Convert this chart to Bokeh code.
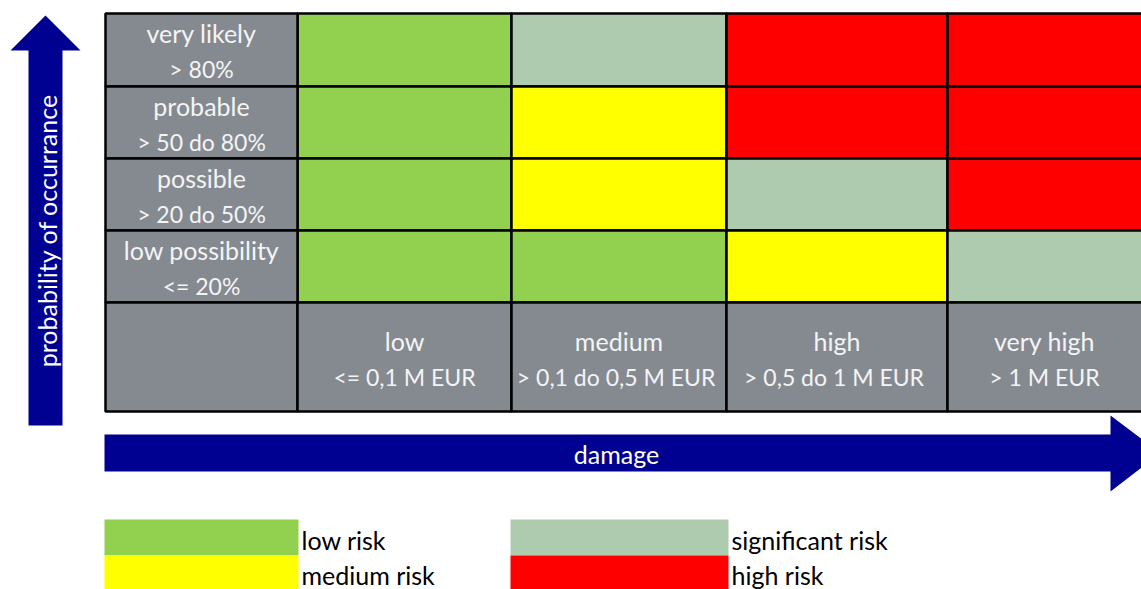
import math
from bokeh.plotting import figure
from bokeh.models import Range1d, ColumnDataSource
from bokeh.core.properties import value
from bokeh.embed import file_html
from bokeh.resources import INLINE

# ---- data ---------------------------------------------------------------
prob_labels = ["very likely", "probable", "possible", "low possibility"]
prob_ranges = ["> 80%", "> 50 do 80%", "> 20 do 50%", "<= 20%"]
damage_labels = ["low", "medium", "high", "very high"]
damage_ranges = ["<= 0,1 M EUR", ">  0,1 do 0,5 M EUR", ">  0,5 do 1 M EUR", "> 1 M EUR"]

# risk level per cell, rows from "very likely" down to "low possibility"
risk_very_likely = ["low", "significant", "high", "high"]
risk_probable = ["low", "medium", "high", "high"]
risk_possible = ["low", "medium", "significant", "high"]
risk_low_possibility = ["low", "low", "medium", "significant"]
risk_rows = [risk_very_likely, risk_probable, risk_possible, risk_low_possibility]

legend_levels = ["low", "medium", "significant", "high"]
legend_texts = ["low risk", "medium risk", "significant risk", "high risk"]

# ---- styling / layout ---------------------------------------------------
W, H = 1141, 589
risk_colors = {"low": "#92D050", "medium": "#FFFF00",
               "significant": "#AECBB0", "high": "#FF0000"}
GRAY = "#858A91"
NAVY = "#000091"
FONT = value("Lato")
FS = "25px"        # words
FS_NUM = "23px"    # numeric range lines

col_edges = [105, 297, 511, 726, 947, 1165]   # header column + 4 damage columns
row_edges = [13, 86, 158, 230, 302, 411]      # 4 probability rows + header row

p = figure(width=W, height=H, x_range=Range1d(0, W), y_range=Range1d(H, 0),
           output_backend="svg", toolbar_location=None, min_border=0)
p.axis.visible = False
p.grid.visible = False
p.outline_line_color = None
p.background_fill_color = "white"

# ---- grid cells ---------------------------------------------------------
cells = dict(left=[], right=[], top=[], bottom=[], color=[])
for r, row in enumerate(risk_rows):
    for c, level in enumerate(row):
        cells["left"].append(col_edges[c + 1])
        cells["right"].append(col_edges[c + 2])
        cells["top"].append(row_edges[r])
        cells["bottom"].append(row_edges[r + 1])
        cells["color"].append(risk_colors[level])
# header cells (gray)
for r in range(len(prob_labels) + 1):
    cells["left"].append(col_edges[0]); cells["right"].append(col_edges[1])
    cells["top"].append(row_edges[r]); cells["bottom"].append(row_edges[r + 1])
    cells["color"].append(GRAY)
for c in range(len(damage_labels)):
    cells["left"].append(col_edges[c + 1]); cells["right"].append(col_edges[c + 2])
    cells["top"].append(row_edges[-2]); cells["bottom"].append(row_edges[-1])
    cells["color"].append(GRAY)

p.quad(left="left", right="right", top="top", bottom="bottom",
       fill_color="color", line_color="black", line_width=2.5,
       source=ColumnDataSource(cells))

# ---- header texts -------------------------------------------------------
TXT = "#F4F4F4"
nx, ny, nt = [], [], []   # name lines
rx, ry, rt = [], [], []   # range lines
for r in range(len(prob_labels)):
    cy = (row_edges[r] + row_edges[r + 1]) / 2
    cx = (col_edges[0] + col_edges[1]) / 2
    nx.append(cx); ny.append(cy - 17); nt.append(prob_labels[r])
    rx.append(cx); ry.append(cy + 19); rt.append(prob_ranges[r])
cy = (row_edges[-2] + row_edges[-1]) / 2
for c in range(len(damage_labels)):
    cx = (col_edges[c + 1] + min(col_edges[c + 2], W)) / 2
    nx.append(cx); ny.append(cy - 16); nt.append(damage_labels[c])
    rx.append(cx); ry.append(cy + 20); rt.append(damage_ranges[c])
p.text(x=nx, y=ny, text=nt, text_font=FONT, text_font_size=FS,
       text_color=TXT, text_align="center", text_baseline="middle")
p.text(x=rx, y=ry, text=rt, text_font=FONT, text_font_size=FS_NUM,
       text_color=TXT, text_align="center", text_baseline="middle")

# ---- arrows -------------------------------------------------------------
# vertical: probability of occurrance
vx0, vx1, vtip, vbase, vbot = 28, 62, 15, 50, 425
p.patch(x=[vx0, vx0, 10, (vx0 + vx1) / 2, 80, vx1, vx1],
        y=[vbot, vbase, vbase, vtip, vbase, vbase, vbot],
        fill_color=NAVY, line_color=None)
p.text(x=[(vx0 + vx1) / 2 + 1], y=[230], text=["probability of occurrance"],
       angle=math.pi / 2, text_font=FONT, text_font_size=FS,
       text_color="white", text_align="center", text_baseline="middle")

# horizontal: damage
hy0, hy1, hl, hb, htop, hbot = 434, 471, 104, 1110, 415, 491
p.patch(x=[hl, hb, hb, 1160, hb, hb, hl],
        y=[hy0, hy0, htop, (hy0 + hy1) / 2, hbot, hy1, hy1],
        fill_color=NAVY, line_color=None)
p.text(x=[616], y=[(hy0 + hy1) / 2 + 1], text=["damage"],
       text_font=FONT, text_font_size=FS, text_color="white",
       text_align="center", text_baseline="middle")

# ---- legend -------------------------------------------------------------
leg = dict(left=[], right=[], top=[], bottom=[], color=[], tx=[], ty=[], label=[])
leg_cols = [(104, 298), (510, 728)]
leg_rows = [(519, 555), (555, 589)]
for i, (lvl, lab) in enumerate(zip(legend_levels, legend_texts)):
    col, row = i // 2, i % 2
    leg["left"].append(leg_cols[col][0]); leg["right"].append(leg_cols[col][1])
    leg["top"].append(leg_rows[row][0]); leg["bottom"].append(leg_rows[row][1])
    leg["color"].append(risk_colors[lvl])
    leg["tx"].append(leg_cols[col][1] + 3)
    leg["ty"].append((leg_rows[row][0] + leg_rows[row][1]) / 2 + 2)
    leg["label"].append(lab)
src = ColumnDataSource(leg)
p.quad(left="left", right="right", top="top", bottom="bottom",
       fill_color="color", line_color=None, source=src)
p.text(x="tx", y="ty", text="label", source=src, text_font=FONT,
       text_font_size=FS, text_color="black", text_align="left",
       text_baseline="middle")

open("out.html", "w").write(file_html(p, INLINE))
